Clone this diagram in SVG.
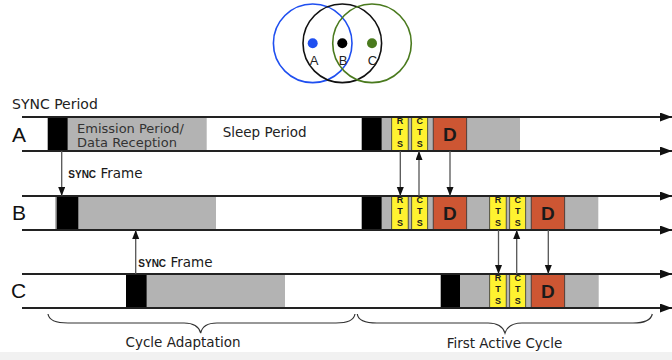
<svg xmlns="http://www.w3.org/2000/svg" width="672" height="360" viewBox="0 0 672 360">
  <style>
    text { font-family: "DejaVu Sans", Verdana, sans-serif; fill: #1a1a1a; }
    .lbl { font-size: 13.5px; fill: #222; }
    .mid { text-anchor: middle; }
    .row { font-family: "Liberation Sans", Arial, sans-serif; font-size: 21px; fill: #111; }
    .venn { font-family: "Liberation Sans", Arial, sans-serif; font-size: 13px; text-anchor: middle; fill: #222; }
    .small { font-family: "Liberation Sans", Arial, sans-serif; font-size: 10px; font-weight: bold; }
    .rts { font-family: "Liberation Sans", Arial, sans-serif; font-size: 9px; font-weight: bold; text-anchor: middle; }
    .d { font-family: "Liberation Sans", Arial, sans-serif; font-size: 19px; font-weight: bold; text-anchor: middle; }
    .gray { fill: #b3b3b3; }
    .blk { fill: #000; }
    .yel { fill: #fff230; stroke: #333; stroke-width: 0.8; }
    .dat { fill: #cd5633; stroke: #333; stroke-width: 0.8; }
    .axis { stroke: #222; stroke-width: 2; fill: none; marker-end: url(#axisHead); }
    .msg { stroke: #555; stroke-width: 1.3; fill: none; marker-end: url(#msgHead); }
    .brace { stroke: #333; stroke-width: 1.2; fill: none; }
  </style>
  <defs>
    <marker id="axisHead" markerUnits="userSpaceOnUse" markerWidth="13" markerHeight="10" refX="12" refY="4.5" orient="auto">
      <path d="M0,0 L12,4.5 L0,9 z" fill="#111"/>
    </marker>
    <marker id="msgHead" markerUnits="userSpaceOnUse" markerWidth="10" markerHeight="8" refX="9" refY="3.5" orient="auto">
      <path d="M0,0 L9,3.5 L0,7 z" fill="#111"/>
    </marker>
    <!-- RTS / CTS / D exchange, drawn at origin = top of a row -->
    <g id="exchange">
      <rect class="yel" x="0" y="0" width="16.5" height="34"/>
      <text class="rts" x="8.25" y="7.3">R</text>
      <text class="rts" x="8.25" y="18.3">T</text>
      <text class="rts" x="8.25" y="29.6">S</text>
      <rect class="yel" x="20" y="0" width="16" height="34"/>
      <text class="rts" x="28" y="7.3">C</text>
      <text class="rts" x="28" y="18.3">T</text>
      <text class="rts" x="28" y="29.6">S</text>
      <rect class="dat" x="41.5" y="0" width="33.5" height="34"/>
      <text class="d" x="58.25" y="23.5">D</text>
    </g>
  </defs>

  <rect x="0" y="352" width="672" height="8" fill="#f1f1f1"/>

  <!-- neighbourhood of the three nodes -->
  <g id="venn">
    <circle cx="312.7" cy="43.3" r="39.3" fill="none" stroke="#1f4ff0" stroke-width="1.6"/>
    <circle cx="342.3" cy="43.3" r="39.3" fill="none" stroke="#111" stroke-width="1.6"/>
    <circle cx="372" cy="43.3" r="39.3" fill="none" stroke="#4a7a1e" stroke-width="1.6"/>
    <circle cx="312.7" cy="43.3" r="5" fill="#1f4ff0"/>
    <circle cx="342.3" cy="43.3" r="5" fill="#000"/>
    <circle cx="372" cy="43.3" r="5" fill="#4a7a1e"/>
    <text class="venn" x="314" y="64.5">A</text>
    <text class="venn" x="343" y="64.5">B</text>
    <text class="venn" x="372.5" y="64.5">C</text>
  </g>

  <text class="lbl" x="12" y="109" style="font-size:14px">SYNC Period</text>

  <!-- node A -->
  <g id="rowA">
    <text class="row" x="12" y="141.7">A</text>
    <rect class="gray" x="67.7" y="117" width="139" height="34"/>
    <rect class="blk" x="47.7" y="117" width="20" height="34"/>
    <text class="lbl" x="77" y="132.7" style="font-size:13px;fill:#333">Emission Period/</text>
    <text class="lbl" x="77" y="146.7" style="font-size:13px;fill:#333">Data Reception</text>
    <text class="lbl" x="222.7" y="136.7">Sleep Period</text>
    <rect class="gray" x="381.7" y="117" width="138.3" height="34"/>
    <rect class="blk" x="361.7" y="117" width="20" height="34"/>
    <use href="#exchange" x="391.7" y="117"/>
    <line class="axis" x1="22" y1="117" x2="672" y2="117"/>
    <line class="axis" x1="22" y1="151" x2="672" y2="151"/>
  </g>

  <!-- node B -->
  <g id="rowB">
    <text class="row" x="12" y="219.5">B</text>
    <rect class="gray" x="55" y="196" width="161" height="34"/>
    <rect class="blk" x="56.7" y="196" width="21.6" height="34"/>
    <rect class="gray" x="381.7" y="196" width="216.6" height="34"/>
    <rect class="blk" x="361.7" y="196" width="20" height="34"/>
    <use href="#exchange" x="391.7" y="196"/>
    <use href="#exchange" x="489.7" y="196"/>
    <line class="axis" x1="22" y1="196" x2="672" y2="196"/>
    <line class="axis" x1="22" y1="230" x2="672" y2="230"/>
  </g>

  <!-- node C -->
  <g id="rowC">
    <text class="row" x="11" y="298">C</text>
    <rect class="gray" x="146.7" y="274" width="138.3" height="34"/>
    <rect class="blk" x="126" y="274" width="20.7" height="34"/>
    <rect class="gray" x="460" y="274" width="138.7" height="34"/>
    <rect class="blk" x="440.7" y="274" width="19.3" height="34"/>
    <use href="#exchange" x="489.7" y="274"/>
    <line class="axis" x1="22" y1="274" x2="672" y2="274"/>
    <line class="axis" x1="22" y1="308" x2="672" y2="308"/>
  </g>

  <!-- messages between nodes -->
  <g id="connectors">
    <line class="msg" x1="61.7" y1="151" x2="61.7" y2="196"/>
    <text x="68.3" y="178.3"><tspan class="small">SYNC</tspan><tspan style="font-size:13.5px"> Frame</tspan></text>
    <line class="msg" x1="135.7" y1="274" x2="135.7" y2="230"/>
    <text x="138.3" y="266.5"><tspan class="small">SYNC</tspan><tspan style="font-size:13.5px"> Frame</tspan></text>

    <line class="msg" x1="400.3" y1="151" x2="400.3" y2="196"/>
    <line class="msg" x1="419" y1="196" x2="419" y2="151"/>
    <line class="msg" x1="450" y1="151" x2="450" y2="196"/>

    <line class="msg" x1="498.5" y1="230" x2="498.5" y2="274"/>
    <line class="msg" x1="516.7" y1="274" x2="516.7" y2="230"/>
    <line class="msg" x1="548.3" y1="230" x2="548.3" y2="274"/>
  </g>

  <!-- phase braces -->
  <g id="phases">
    <path class="brace" d="M48,314 C49,320 56,323 68,323 L184,323 C195,323 199,327 200.7,333 C202,327 206,323 217,323 L336,323 C348,323 354,320 355,314"/>
    <text class="lbl mid" x="183" y="347">Cycle Adaptation</text>
    <path class="brace" d="M357.3,314 C358,320 365,323 377,323 L488,323 C499,323 503,327 505,333 C507,327 511,323 522,323 L633,323 C645,323 651,320 652.3,314"/>
    <text class="lbl mid" x="504.5" y="348">First Active Cycle</text>
  </g>
</svg>
